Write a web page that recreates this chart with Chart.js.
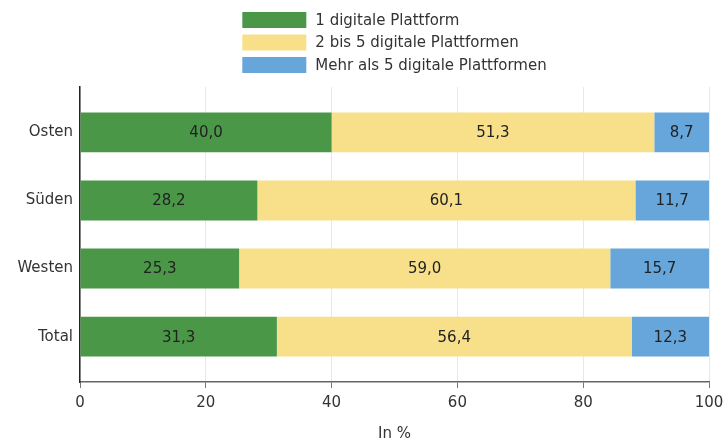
<!DOCTYPE html>
<html>
<head>
<meta charset="utf-8">
<script src="https://cdn.jsdelivr.net/npm/chart.js@4.4.1/dist/chart.umd.min.js"></script>
<style>
  body { margin: 0; background: #fff; }
  #wrap { width: 726px; height: 443px; position: relative; }
</style>
</head>
<body>
<div id="wrap"><canvas id="barChart"></canvas></div>
<script>
const categories = ["Osten", "Süden", "Westen", "Total"];
const seriesNames = ["1 digitale Plattform", "2 bis 5 digitale Plattformen", "Mehr als 5 digitale Plattformen"];
const onePlatform = [40.0, 28.2, 25.3, 31.3];
const twoToFive = [51.3, 60.1, 59.0, 56.4];
const moreThanFive = [8.7, 11.7, 15.7, 12.3];
const xTicks = [0, 20, 40, 60, 80, 100];
const colors = ["#4b9748", "#f8e08a", "#67a6da"];

const fontFamily = "'DejaVu Sans', sans-serif";
const textColor = "#333";

function toPoints(values) {
    return values.map((v, i) => ({ x: v, y: i }));
}

// legend stacked vertically above the plot
const vertLegend = {
    id: "vertLegend",
    afterDraw(chart) {
        const ctx = chart.ctx;
        const boxW = 64, boxH = 16, rowH = 22.5, gap = 9;
        ctx.save();
        ctx.font = "15px " + fontFamily;
        let maxText = 0;
        chart.data.datasets.forEach(ds => {
            maxText = Math.max(maxText, ctx.measureText(ds.label).width);
        });
        const area = chart.chartArea;
        const left = (area.left + area.right) / 2 - (boxW + gap + maxText) / 2;
        chart.data.datasets.forEach((ds, i) => {
            const top = 12 + i * rowH;
            ctx.fillStyle = ds.backgroundColor;
            ctx.fillRect(left, top, boxW, boxH);
            ctx.fillStyle = textColor;
            ctx.textBaseline = "middle";
            ctx.textAlign = "left";
            ctx.fillText(ds.label, left + boxW + gap, top + boxH / 2 + 1);
        });
        ctx.restore();
    }
};

// value labels in the middle of each segment
const valueLabels = {
    id: "valueLabels",
    afterDatasetsDraw(chart) {
        const ctx = chart.ctx;
        ctx.save();
        ctx.font = "15px " + fontFamily;
        ctx.fillStyle = "#222";
        ctx.textAlign = "center";
        ctx.textBaseline = "middle";
        chart.data.datasets.forEach((ds, di) => {
            const meta = chart.getDatasetMeta(di);
            meta.data.forEach((bar, i) => {
                const p = bar.getCenterPoint();
                const txt = ds.data[i].x.toFixed(1).replace(".", ",");
                ctx.fillText(txt, p.x, p.y + 1);
            });
        });
        ctx.restore();
    }
};

const ctx = document.getElementById("barChart");
new Chart(ctx, {
    type: "bar",
    data: {
        datasets: [
            { label: seriesNames[0], data: toPoints(onePlatform), backgroundColor: colors[0] },
            { label: seriesNames[1], data: toPoints(twoToFive), backgroundColor: colors[1] },
            { label: seriesNames[2], data: toPoints(moreThanFive), backgroundColor: colors[2] }
        ]
    },
    plugins: [vertLegend, valueLabels],
    options: {
        indexAxis: "y",
        responsive: true,
        maintainAspectRatio: false,
        animation: false,
        categoryPercentage: 1,
        barPercentage: 0.587,
        layout: { padding: { top: 87, right: 17, left: 0, bottom: 0 } },
        plugins: {
            legend: { display: false },
            tooltip: { enabled: false }
        },
        scales: {
            x: {
                type: "linear",
                stacked: true,
                min: 0,
                max: 100,
                afterBuildTicks: (scale) => { scale.ticks = xTicks.map(v => ({ value: v })); },
                afterFit: (scale) => {
                    scale.height = 61;
                    scale.paddingRight = 17;
                },
                ticks: {
                    font: { size: 15, family: fontFamily },
                    color: textColor,
                    padding: 6
                },
                grid: { color: "#e8e8e8", tickColor: "#777", tickLength: 6 },
                border: { color: "#666", width: 1.5 },
                title: {
                    display: true,
                    text: "In %",
                    font: { size: 15, family: fontFamily },
                    color: textColor,
                    padding: { top: 0, bottom: 0 }
                }
            },
            y: {
                type: "linear",
                stacked: true,
                reverse: true,
                offset: false,
                min: -2 / 3,
                max: categories.length - 1 + 2 / 3,
                afterBuildTicks: (scale) => { scale.ticks = categories.map((c, i) => ({ value: i })); },
                afterFit: (scale) => { scale.width = 80; },
                ticks: {
                    callback: (v) => categories[v],
                    font: { size: 15, family: fontFamily },
                    color: textColor,
                    padding: 7
                },
                grid: { display: false, drawTicks: false, offset: false },
                border: { color: "#222", width: 1.5 }
            }
        }
    }
});
</script>
</body>
</html>
